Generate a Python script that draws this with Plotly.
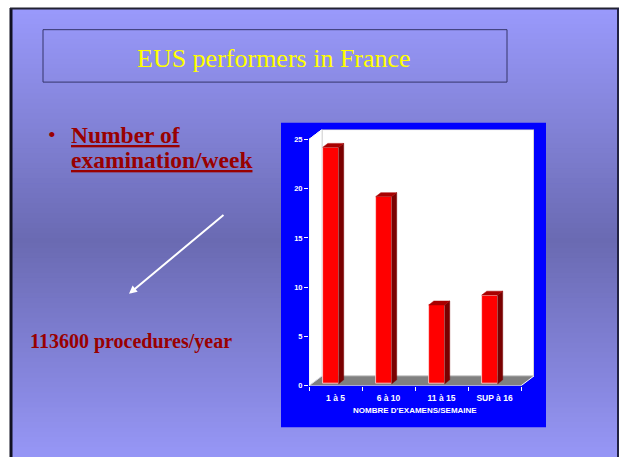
import plotly.graph_objects as go

# ---- data ----
categories = ["1 à 5", "6 à 10", "11 à 15", "SUP à 16"]
values = [24, 19, 8, 9]
y_ticks = [0, 5, 10, 15, 20, 25]

W, H = 620, 462  # reference frame used to place elements (paper fractions)


def px(x):
    return x / W


def py(y):
    return 1 - y / H


fig = go.Figure()
shapes = []

# ---- slide background (vertical gradient) ----
def grad(y):
    top, mid, bot = (154, 154, 252), (106, 106, 178), (150, 150, 246)
    if y < 245:
        t = (y - 9) / (245 - 9)
        a, b = top, mid
    else:
        t = (y - 245) / (462 - 245)
        a, b = mid, bot
    return "rgb(%d,%d,%d)" % tuple(round(a[i] + (b[i] - a[i]) * t) for i in range(3))


nb = 90
y0s = 9
for k in range(nb):
    ya = y0s + (462 - y0s) * k / nb
    yb = min(462, ya + (462 - y0s) / nb + 2)
    shapes.append(dict(type="rect", xref="paper", yref="paper", layer="below",
                       x0=px(12), x1=px(617), y0=py(yb), y1=py(ya),
                       fillcolor=grad((ya + yb) / 2), line=dict(width=0)))
# slide border
shapes.append(dict(type="line", xref="paper", yref="paper", layer="below",
                   x0=px(11), x1=px(11), y0=py(8), y1=py(462), line=dict(color="#111122", width=3)))
shapes.append(dict(type="line", xref="paper", yref="paper", layer="below",
                   x0=px(10), x1=px(619), y0=py(8.5), y1=py(8.5), line=dict(color="#222233", width=2)))
shapes.append(dict(type="line", xref="paper", yref="paper", layer="below",
                   x0=px(618), x1=px(618), y0=py(8), y1=py(462), line=dict(color="#222244", width=2)))

# title box
shapes.append(dict(type="rect", xref="paper", yref="paper", layer="below",
                   x0=px(43), x1=px(507), y0=py(83), y1=py(30),
                   fillcolor="rgba(0,0,0,0)", line=dict(color="#34346a", width=1)))

# blue chart panel
shapes.append(dict(type="rect", xref="paper", yref="paper", layer="below",
                   x0=px(281), x1=px(546), y0=py(432), y1=py(124),
                   fillcolor="#0000FF", line=dict(width=0)))

# ---- 3D frame in data coords ----
dx, dy = 0.245, 1.0
xl, xr = -0.5, len(categories) - 0.5
ymax = y_ticks[-1]
shapes.append(dict(type="path", xref="x", yref="y", layer="below",
                   path=f"M {xl},0 L {xr},0 L {xr+dx},{dy} L {xl+dx},{dy} Z",
                   fillcolor="#808080", line=dict(width=0)))
shapes.append(dict(type="rect", xref="x", yref="y", layer="below",
                   x0=xl + dx, x1=xr + dx, y0=dy, y1=ymax + dy,
                   fillcolor="white", line=dict(color="#b0b0b0", width=1)))
shapes.append(dict(type="path", xref="x", yref="y", layer="below",
                   path=f"M {xl},0 L {xl+dx},{dy} L {xl+dx},{ymax+dy} L {xl},{ymax} Z",
                   fillcolor="white", line=dict(color="#e0e0e0", width=1)))
for (a, b, c, d) in [(xl, 0, xl, ymax), (xl, 0, xr, 0), (xr, 0, xr + dx, dy), (xl, ymax, xl + dx, ymax + dy)]:
    shapes.append(dict(type="line", xref="x", yref="y", layer="above",
                       x0=a, y0=b, x1=c, y1=d, line=dict(color="white", width=1)))

# ---- bars ----
xs = list(range(len(categories)))
bw, boff, base = 0.30, -0.24, 0.2
sdx, sdy = 0.095, 0.4
for i, v in zip(xs, values):
    xa, xb = i + boff, i + boff + bw
    top = base + v
    # side face
    fig.add_trace(go.Scatter(x=[xb, xb + sdx, xb + sdx, xb, xb],
                             y=[base, base + sdy, top + sdy, top, base],
                             fill="toself", fillcolor="#7a0000", mode="lines",
                             line=dict(color="#7a0000", width=0.5), hoverinfo="skip", showlegend=False))
    # top face
    fig.add_trace(go.Scatter(x=[xa, xb, xb + sdx, xa + sdx, xa],
                             y=[top, top, top + sdy, top + sdy, top],
                             fill="toself", fillcolor="#a80000", mode="lines",
                             line=dict(color="#a80000", width=0.5), hoverinfo="skip", showlegend=False))

fig.add_trace(go.Bar(x=xs, y=values, base=base, width=bw, offset=boff,
                     marker=dict(color="#FF0000", line=dict(color="#ffdede", width=0.8)),
                     showlegend=False))

fig.update_layout(
    autosize=True, margin=dict(l=0, r=0, t=0, b=0),
    paper_bgcolor="white", plot_bgcolor="rgba(0,0,0,0)",
    shapes=shapes, bargap=0,
    xaxis=dict(domain=[px(309), px(309 + 53 * (4 + dx))], range=[xl, xr + dx],
               tickmode="array", tickvals=xs, ticktext=categories,
               ticks="outside", ticklen=4, tickcolor="rgba(0,0,0,0)",
               tickfont=dict(family="Liberation Sans", size=8.5, color="white", weight="bold"),
               showgrid=False, zeroline=False, showline=False,
               minor=dict(tickmode="array", tickvals=[x - 0.5 for x in range(len(categories) + 1)],
                          ticks="outside", ticklen=4, tickcolor="white", tickwidth=1, showgrid=False)),
    yaxis=dict(domain=[py(390), py(131)], range=[0, ymax + dy],
               tickmode="array", tickvals=y_ticks,
               ticks="outside", ticklen=4, tickcolor="white",
               tickfont=dict(family="Liberation Sans", size=7.5, color="white", weight="bold"),
               showgrid=False, zeroline=False, showline=False),
)

ann = []
ann.append(dict(xref="paper", yref="paper", x=px(415), y=py(415), xanchor="center", yanchor="middle",
                text="<b>NOMBRE D'EXAMENS/SEMAINE</b>",
                showarrow=False, font=dict(family="Liberation Sans", size=8, color="white")))
ann.append(dict(xref="paper", yref="paper", x=px(274), y=py(59), xanchor="center", yanchor="middle",
                text="EUS performers in France",
                showarrow=False, font=dict(family="Liberation Serif", size=26, color="#FFFF00")))
ann.append(dict(xref="paper", yref="paper", x=px(46), y=py(136), xanchor="left", yanchor="middle", text="•",
                showarrow=False, font=dict(family="Liberation Serif", size=22, color="#990000")))
ann.append(dict(xref="paper", yref="paper", x=px(69), y=py(136), xanchor="left", yanchor="middle",
                text="<b><u>Number of</u></b>",
                showarrow=False, font=dict(family="Liberation Serif", size=23.5, color="#990000")))
ann.append(dict(xref="paper", yref="paper", x=px(69), y=py(162), xanchor="left", yanchor="middle",
                text="<b><u>examination/week</u></b>",
                showarrow=False, font=dict(family="Liberation Serif", size=23.5, color="#990000")))
ann.append(dict(xref="paper", yref="paper", x=px(28), y=py(345), xanchor="left", yanchor="middle",
                text="<b>113600 procedures/year</b>",
                showarrow=False, font=dict(family="Liberation Serif", size=20, color="#990000")))
ann.append(dict(xref="paper", yref="paper", axref="pixel", ayref="pixel",
                x=px(129), y=py(297), ax=96, ay=-80, text="", showarrow=True,
                arrowhead=2, arrowsize=0.8, arrowwidth=2, arrowcolor="white"))
fig.update_layout(annotations=ann)

fig.write_html("out.html",
               config={"displayModeBar": False, "responsive": True},
               default_width="100vw", default_height="100vh",
               post_script="document.body.style.margin='0';document.body.style.padding='0';"
                           "document.body.style.overflow='hidden';")
